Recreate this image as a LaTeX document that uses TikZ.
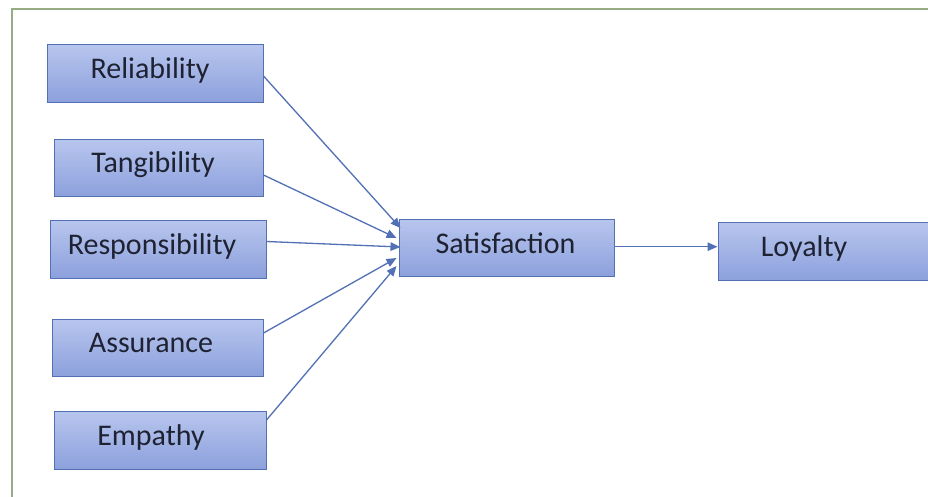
\documentclass[tikz,border=0pt]{standalone}
\usepackage{fontspec}
\setmainfont{Carlito}
\usetikzlibrary{arrows.meta}
\definecolor{boxline}{RGB}{84,112,180}
\definecolor{boxtop}{RGB}{184,198,238}
\definecolor{boxbot}{RGB}{140,160,220}
\definecolor{txtcol}{RGB}{30,34,50}
\definecolor{framecol}{RGB}{150,172,130}
\definecolor{arrcol}{RGB}{82,112,182}
\tikzset{
  box/.style={draw=boxline, line width=1pt, top color=boxtop, bottom color=boxbot, inner sep=0pt},
  lbl/.style={text=txtcol, font=\fontsize{30}{34}\selectfont, anchor=base, inner sep=0pt},
  conn/.style={draw=arrcol, line width=1.3pt, -{Triangle[length=10pt,width=8.5pt]}}
}
\begin{document}
\begin{tikzpicture}[x=1pt,y=-1pt]
\useasboundingbox[fill=white] (0,0) rectangle (928,496);
\draw[framecol, line width=1.6pt] (940,9) -- (12,9) -- (12,510);
% boxes
\node[box, minimum width=216pt, minimum height=58pt] (rel) at (155,73) {};
\node[box, minimum width=209pt, minimum height=57pt] (tan) at (158.5,167.5) {};
\node[box, minimum width=216pt, minimum height=58pt] (res) at (158,249) {};
\node[box, minimum width=211pt, minimum height=57pt] (ass) at (157.5,347.5) {};
\node[box, minimum width=212pt, minimum height=58pt] (emp) at (160,440) {};
\node[box, minimum width=215pt, minimum height=57pt] (sat) at (506.5,247.5) {};
\node[box, minimum width=216pt, minimum height=58pt] (loy) at (826,251) {};
% labels
\node[lbl] (trel) at (150,78) {Reliability};
\node[lbl] (ttan) at (153,172.5) {Tangibility};
\node[lbl] (tres) at (152,254) {Responsibility};
\node[lbl] (tass) at (151,352.5) {Assurance};
\node[lbl] (temp) at (151,445) {Empathy};
\node[lbl] (tsat) at (505.5,253) {Satisfaction};
\node[lbl] (tloy) at (804,256.5) {Loyalty};
% connectors
\draw[conn] ([yshift=-3pt]rel.east) -- ([yshift=19.5pt,xshift=2pt]sat.west);
\draw[conn] ([yshift=-7.5pt]tan.east) -- ([yshift=9.5pt,xshift=-2pt]sat.west);
\draw[conn] ([yshift=7.5pt]res.east) -- ([yshift=0.5pt,xshift=2pt]sat.west);
\draw[conn] ([yshift=14.5pt]ass.east) -- ([yshift=-10.5pt,xshift=-2pt]sat.west);
\draw[conn] ([yshift=20pt]emp.east) -- ([yshift=-18.5pt,xshift=-2pt]sat.west);
\draw[conn] ([yshift=0.8pt]sat.east) -- ([yshift=0.8pt]sat.east -| loy.west);
\end{tikzpicture}
\end{document}
